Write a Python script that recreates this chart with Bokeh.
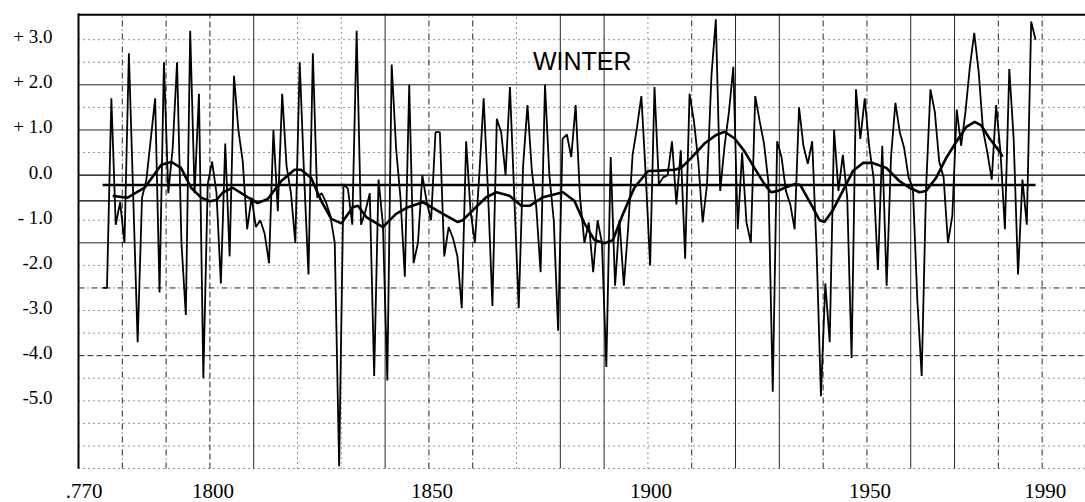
from bokeh.plotting import figure
from bokeh.models import Range1d, Label, ColumnDataSource
from bokeh.embed import file_html
from bokeh.resources import INLINE
from bokeh.core.properties import value

# ---------------- data ----------------
# winter (Dec-Feb) temperature anomaly, labelled by the January year
winter_years = list(range(1776, 1990))
winter_anomaly = [
    -2.5, -2.5, 1.7, -1.1,                                            # 1776-1779
    -0.6, -1.5, 2.7, -0.5, -3.7, -0.5, -0.1, 0.8, 1.7, -2.6,          # 1780s
    2.5, -0.4, 0.6, 2.5, -1.5, -3.1, 3.2, -0.4, 1.8, -4.5,            # 1790s
    -0.2, 0.3, -0.4, -2.4, 0.7, -1.8, 2.2, 1.0, 0.3, -1.2,            # 1800s
    -0.5, -1.15, -1.0, -1.3, -1.95, 1.0, -0.8, 1.8, 0.2, -0.4,        # 1810s
    -1.5, 2.5, 0.0, -2.2, 2.7, -0.5, -0.4, -0.6, -0.9, -1.5,          # 1820s
    -6.45, -0.2, -0.3, -1.1, 3.2, -1.1, -0.8, -0.4, -4.45, -0.1,      # 1830s
    -1.1, -4.55, 2.45, 0.6, -0.5, -2.25, 2.0, -1.95, -1.5, 0.0,       # 1840s
    -0.6, -1.0, 0.95, 0.95, -1.8, -1.15, -1.4, -1.8, -2.95, 0.75,     # 1850s
    -0.8, -1.5, 0.0, 1.7, -0.4, -2.9, 1.25, 0.95, 0.0, 1.95,          # 1860s
    -0.5, -2.95, 0.2, 1.55, 0.1, -0.7, -2.15, 2.0, 0.0, -1.0,         # 1870s
    -3.45, 0.8, 0.9, 0.4, 1.55, -0.5, -1.5, -1.05, -2.15, -1.0,       # 1880s
    -1.5, -4.25, 0.4, -2.45, -1.0, -2.45, -1.15, 0.45, 1.05, 1.75,    # 1890s
    0.0, -2.0, 1.95, -0.2, -0.05, 0.0, 0.75, -0.65, 0.55, -1.85,      # 1900s
    1.8, 1.2, 0.3, -1.05, -0.2, 2.2, 3.45, -0.35, 0.65, 1.4,          # 1910s
    2.4, -1.2, 0.5, -1.05, -1.5, 1.75, 1.2, 0.7, -0.15, -4.8,         # 1920s
    0.75, 0.4, -0.35, -0.65, -1.2, 1.5, 0.65, 0.25, 0.75, -1.65,      # 1930s
    -4.9, -2.4, -3.7, 1.0, -0.35, 0.45, -0.5, -4.05, 1.9, 0.8,        # 1940s
    1.7, 0.65, -0.05, -2.1, 0.65, -2.45, 0.4, 1.6, 0.95, 0.6,         # 1950s
    -0.05, -0.3, -2.75, -4.45, -0.3, 1.9, 1.4, 0.3, -0.05, -1.5,      # 1960s
    -0.9, 1.45, 0.65, 1.4, 2.4, 3.15, 2.3, 1.0, 0.5, -0.1,            # 1970s
    1.55, 0.5, -1.2, 2.35, 0.8, -2.2, -0.1, -1.1, 3.4, 3.0,           # 1980s
]

# smoothed curve (heavy line)
smooth_years = [1778.3, 1781.7, 1785.6, 1789.4, 1791.7, 1793.9, 1796.2, 1798.5, 1800.5, 1802.0,
                1803.5, 1805.7, 1809.1, 1811.4, 1813.7, 1816.8, 1819.8, 1821.3, 1823.6, 1825.9,
                1828.2, 1830.5, 1833.1, 1834.3, 1836.2, 1840.0, 1843.0, 1845.7, 1849.1, 1853.7,
                1857.1, 1858.2, 1860.5, 1863.6, 1865.9, 1868.9, 1871.6, 1873.5, 1876.5, 1881.1,
                1883.7, 1886.0, 1888.3, 1890.6, 1892.5, 1894.8, 1897.4, 1900.5, 1903.1, 1906.6,
                1908.1, 1910.4, 1913.4, 1916.1, 1918.0, 1920.3, 1922.6, 1924.8, 1927.1, 1928.6,
                1930.2, 1931.7, 1934.0, 1935.3, 1938.1, 1939.7, 1940.8, 1942.7, 1945.0, 1947.3,
                1949.6, 1951.8, 1954.9, 1957.9, 1960.2, 1962.5, 1964.0, 1966.3, 1968.6, 1970.9,
                1973.2, 1975.1, 1976.6, 1978.5, 1980.8, 1981.5]
smooth_anomaly = [-0.46, -0.5, -0.28, 0.23, 0.29, 0.16, -0.28, -0.5, -0.58, -0.55,
                  -0.38, -0.28, -0.49, -0.62, -0.53, -0.13, 0.12, 0.12, -0.06, -0.57,
                  -0.97, -1.07, -0.71, -0.68, -0.93, -1.15, -0.86, -0.71, -0.6, -0.86,
                  -1.04, -1.0, -0.78, -0.49, -0.38, -0.46, -0.68, -0.68, -0.49, -0.38,
                  -0.57, -1.07, -1.44, -1.51, -1.44, -0.86, -0.28, 0.09, 0.1, 0.12,
                  0.16, 0.38, 0.7, 0.89, 0.96, 0.81, 0.52, 0.16, -0.2, -0.38,
                  -0.35, -0.28, -0.2, -0.22, -0.71, -1.0, -1.04, -0.78, -0.35, 0.09,
                  0.27, 0.27, 0.16, -0.13, -0.28, -0.38, -0.35, -0.06, 0.38, 0.74,
                  1.07, 1.18, 1.1, 0.81, 0.52, 0.41]

mean_anomaly = -0.22          # long-term mean (heavy horizontal line)
band_levels = [0.0, -0.57]    # thin solid lines around the mean

y_tick_values = [3, 2, 1, 0, -1, -2, -3, -4, -5]
y_tick_labels = ["+ 3.0", "+ 2.0", "+ 1.0", "0.0", "- 1.0", "-2.0", "-3.0", "-4.0", "-5.0"]
x_tick_years = [1770, 1800, 1850, 1900, 1950, 1990]
x_tick_labels = [".770", "1800", "1850", "1900", "1950", "1990"]
chart_title = "WINTER"

# ---------------- layout / style configuration ----------------
VIEW_X_START, X_START, X_END = 1752.19, 1770, 1999.9
Y_BOTTOM, Y_TOP = -7.253, 3.868
GRID_BOTTOM, GRID_TOP = -6.5, 3.58
BORDER_LEVEL = 3.55
X_LABEL_LEVEL = -6.99
WINTER_OFFSET = 0.5   # a winter is drawn at the turn of the year

DASH = {"solid": "solid", "dotted": "1 4", "dashdot": "6 3 1 3", "dashed": "6 3"}

v_grid_years = list(range(1770, 2000, 10))
v_grid_style = ["solid", "dashdot", "dashdot", "dashed", "solid", "dotted", "dotted", "solid",
                "dashdot", "dashdot", "dotted", "solid", "solid", "dotted", "dashdot", "solid",
                "solid", "dashdot", "dashdot", "solid", "solid", "dashdot", "dashdot"]

h_grid_levels = [3.0, 2.5, 2.0, 1.5, 1.0, 0.5, -1.0, -1.5, -2.0, -2.5, -3.0, -3.5,
                 -4.0, -4.5, -5.0, -5.5, -6.0, -6.5]
h_grid_style = ["dotted", "dotted", "solid", "dotted", "solid", "dotted", "dotted", "solid",
                "dotted", "dashdot", "dotted", "dotted", "dashed", "dotted", "dotted", "dotted",
                "dotted", "dotted"]

p = figure(width=1085, height=502,
           x_range=Range1d(VIEW_X_START, X_END), y_range=Range1d(Y_BOTTOM, Y_TOP),
           output_backend="svg", toolbar_location=None,
           x_axis_location=None, y_axis_location=None,
           min_border_left=0, min_border_right=0, min_border_top=0, min_border_bottom=0)
p.outline_line_color = None
p.grid.visible = False
p.background_fill_color = "white"
p.border_fill_color = "white"

# vertical grid
for style in DASH:
    xs = [yr for yr, s in zip(v_grid_years, v_grid_style) if s == style]
    if xs:
        p.segment(x0=xs, y0=GRID_BOTTOM, x1=xs, y1=GRID_TOP, line_color="black",
                  line_width=1.0, line_alpha=0.85, line_dash=DASH[style])
# left border (first grid year), heavier
p.segment(x0=[v_grid_years[0]], y0=GRID_BOTTOM, x1=[v_grid_years[0]], y1=GRID_TOP,
          line_color="black", line_width=2.0)

# horizontal grid
for style in DASH:
    ys = [lv for lv, s in zip(h_grid_levels, h_grid_style) if s == style]
    if ys:
        p.segment(x0=X_START, y0=ys, x1=X_END, y1=ys, line_color="black",
                  line_width=1.0, line_alpha=0.85, line_dash=DASH[style])
p.segment(x0=X_START, y0=band_levels, x1=X_END, y1=band_levels,
          line_color="black", line_width=1.3)
# top border
p.segment(x0=[X_START], y0=BORDER_LEVEL, x1=[X_END], y1=BORDER_LEVEL,
          line_color="black", line_width=2.0)

# mean line over the record
wx = [y - WINTER_OFFSET for y in winter_years]
p.line(x=[wx[0], wx[-1]], y=[mean_anomaly, mean_anomaly], line_color="black", line_width=2.6)

# annual values
p.line(x=wx, y=winter_anomaly, line_color="black", line_width=1.8)

# smoothed curve
sx = [y - WINTER_OFFSET for y in smooth_years]
p.line(x=sx, y=smooth_anomaly, line_color="black", line_width=2.6)

# y tick labels, set against the left border
ysrc = ColumnDataSource(dict(y=y_tick_values, text=y_tick_labels))
p.text(x=X_START, y="y", text="text", source=ysrc,
       text_font=value("Liberation Serif"), text_font_size="19px",
       text_align="right", text_baseline="middle", x_offset=-26, y_offset=-3,
       text_color="black")

# x tick labels under the grid
xsrc = ColumnDataSource(dict(x=x_tick_years, text=x_tick_labels))
p.text(x="x", y=X_LABEL_LEVEL, text="text", source=xsrc,
       text_font=value("Liberation Serif"), text_font_size="21px",
       text_align="right", text_baseline="middle", x_offset=24, text_color="black")

# title inside the plot
p.add_layout(Label(x=1885, y=2.52, text=chart_title, text_font="Liberation Sans",
                   text_font_size="25px", text_align="center", text_baseline="middle",
                   text_color="black"))

open("out.html", "w").write(file_html(p, INLINE))
